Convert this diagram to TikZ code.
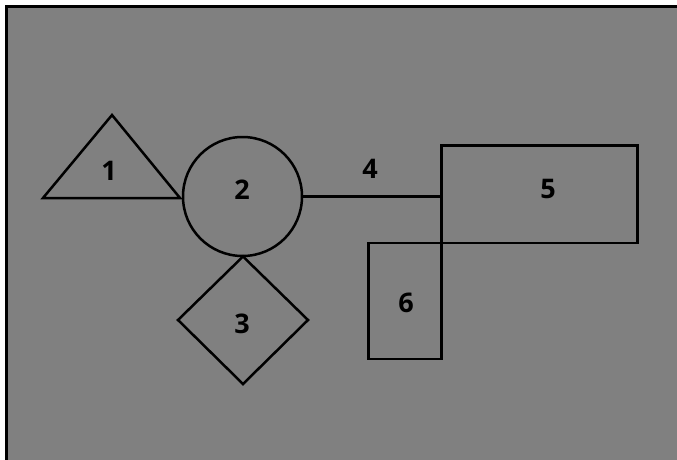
\documentclass[tikz,border=0pt]{standalone}
\usepackage{fontspec}
\setmainfont{Open Sans}
\begin{document}
\begin{tikzpicture}[x=1pt,y=-1pt,
  shp/.style={draw=black,line width=2.5pt,line join=miter},
  lbl/.style={font=\bfseries\fontsize{27}{27}\selectfont,text=black,inner sep=0pt}]
\useasboundingbox (0,0) rectangle (677,460);
\fill[white] (0,0) rectangle (677,460);
\fill[fill={rgb,255:red,128;green,128;blue,128}] (6.5,6.5) rectangle (677,460);
\draw[line width=3pt,black] (6.5,460) -- (6.5,6.5) -- (677,6.5);
% shapes
\draw[shp] (43,198) -- (112,115) -- (180,198) -- cycle;
\node[lbl] (l1) at (109,171) {1};
\node[shp,circle,minimum size=119pt,inner sep=0pt] (c2) at (242.5,196.5) {};
\node[lbl] (l2) at (242,190) {2};
\draw[shp] (243,256.5) -- (308,320) -- (243,384) -- (178,320) -- cycle;
\node[lbl] (l3) at (242,324) {3};
\coordinate (r5w) at (441.5,196.5);
\draw[shp] (c2.east) -- (r5w);
\node[lbl] (l4) at (370,169) {4};
\draw[shp] (441.5,145.5) rectangle (637.5,243);
\node[lbl] (l5) at (548,189) {5};
\draw[shp] (368.5,243) rectangle (441.5,359);
\node[lbl] (l6) at (406,303) {6};
\end{tikzpicture}
\end{document}
